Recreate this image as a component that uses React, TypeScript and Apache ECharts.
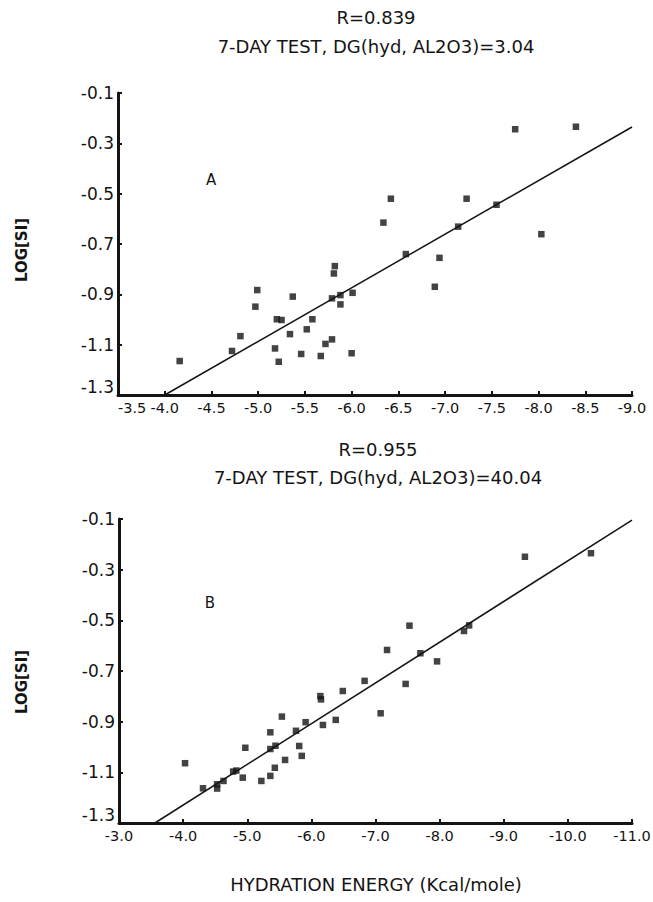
import React, { useEffect, useRef } from "react";
import * as echarts from "echarts";

// ---- Data ----
const yTicks = [-1.3, -1.1, -0.9, -0.7, -0.5, -0.3, -0.1];
const xTicksA = [-3.5, -4.0, -4.5, -5.0, -5.5, -6.0, -6.5, -7.0, -7.5, -8.0, -8.5, -9.0];
const xTicksB = [-3.0, -4.0, -5.0, -6.0, -7.0, -8.0, -9.0, -10.0, -11.0];

const titleA1 = "R=0.839";
const titleA2 = "7-DAY TEST, DG(hyd, AL2O3)=3.04";
const titleB1 = "R=0.955";
const titleB2 = "7-DAY TEST, DG(hyd, AL2O3)=40.04";
const xAxisName = "HYDRATION ENERGY (Kcal/mole)";
const yAxisName = "LOG[SI]";

const pointsA: [number, number][] = [
  [-4.16, -1.165], [-4.72, -1.125], [-4.81, -1.066], [-4.99, -0.883], [-4.97, -0.949],
  [-5.2, -0.999], [-5.25, -1.002], [-5.18, -1.115], [-5.22, -1.168], [-5.37, -0.909],
  [-5.34, -1.058], [-5.46, -1.137], [-5.52, -1.039], [-5.58, -0.999], [-5.67, -1.145],
  [-5.72, -1.097], [-5.79, -1.079], [-5.79, -0.916], [-5.82, -0.788], [-5.81, -0.817],
  [-5.88, -0.903], [-5.88, -0.94], [-6.01, -0.894], [-6.0, -1.134], [-6.34, -0.615],
  [-6.42, -0.52], [-6.58, -0.74], [-6.89, -0.87], [-6.94, -0.755], [-7.14, -0.631],
  [-7.23, -0.52], [-7.55, -0.544], [-7.75, -0.244], [-8.03, -0.661], [-8.4, -0.234],
];
const lineA: [number, number][] = [[-4.0, -1.3], [-9.0, -0.235]];

const pointsB: [number, number][] = [
  [-4.03, -1.064], [-4.31, -1.163], [-4.53, -1.147], [-4.53, -1.164], [-4.63, -1.134],
  [-4.78, -1.097], [-4.83, -1.093], [-4.93, -1.121], [-4.97, -1.003], [-5.22, -1.134],
  [-5.36, -1.114], [-5.36, -0.942], [-5.36, -1.008], [-5.43, -1.082], [-5.44, -0.995],
  [-5.54, -0.88], [-5.59, -1.051], [-5.76, -0.936], [-5.81, -0.996], [-5.85, -1.035],
  [-5.91, -0.902], [-6.14, -0.799], [-6.15, -0.812], [-6.18, -0.913], [-6.38, -0.893],
  [-6.49, -0.779], [-6.83, -0.739], [-7.08, -0.867], [-7.18, -0.617], [-7.47, -0.751],
  [-7.53, -0.521], [-7.7, -0.63], [-7.96, -0.662], [-8.38, -0.542], [-8.46, -0.52],
  [-9.33, -0.249], [-10.36, -0.235],
];
const lineB: [number, number][] = [[-3.56, -1.3], [-11.0, -0.104]];

const FONT = "'DejaVu Sans', Verdana, sans-serif";
const INK = "#141414";

function xAxis(gridIndex: number, min: number, max: number, ticks: number[], firstAlign: string) {
  return {
    type: "value",
    gridIndex,
    min,
    max,
    inverse: true,
    axisLine: { show: true, onZero: false, lineStyle: { color: INK, width: 3 } },
    axisTick: { show: true, inside: true, length: 4, lineStyle: { color: INK, width: 2 }, customValues: ticks },
    axisLabel: {
      customValues: ticks,
      formatter: (v: number) => v.toFixed(1),
      color: INK,
      fontFamily: FONT,
      fontSize: 14.5,
      margin: 5,
      showMinLabel: true,
      showMaxLabel: true,
      alignMinLabel: firstAlign,
      alignMaxLabel: "center",
    },
    splitLine: { show: false },
  };
}

function yAxis(gridIndex: number) {
  return {
    type: "value",
    gridIndex,
    min: -1.3,
    max: -0.1,
    axisLine: { show: true, onZero: false, lineStyle: { color: INK, width: 3 } },
    axisTick: { show: true, inside: true, length: 4, lineStyle: { color: INK, width: 2 }, customValues: yTicks },
    axisLabel: {
      customValues: yTicks,
      formatter: (v: number) => v.toFixed(1),
      color: INK,
      fontFamily: FONT,
      fontSize: 17,
      margin: 4,
      showMinLabel: true,
      showMaxLabel: true,
      verticalAlignMinLabel: "bottom",
    },
    splitLine: { show: false },
  };
}

function text(x: number, y: number, t: string, size: number, rotate = 0, weight = "normal") {
  return {
    type: "text",
    x,
    y,
    rotation: rotate,
    style: {
      text: t,
      fill: INK,
      font: `${weight} ${size}px ${FONT}`,
      textAlign: "center",
      textVerticalAlign: "middle",
    },
  };
}

export default function App() {
  const ref = useRef<HTMLDivElement>(null);
  useEffect(() => {
    if (!ref.current) return;
    const chart = echarts.init(ref.current, undefined, { renderer: "svg" });
    chart.setOption({
      animation: false,
      backgroundColor: "#ffffff",
      grid: [
        { left: 118, top: 93, width: 514, height: 302, containLabel: false, outerBoundsMode: "none" },
        { left: 119, top: 519, width: 513, height: 304, containLabel: false, outerBoundsMode: "none" },
      ],
      xAxis: [xAxis(0, -9.0, -3.5, xTicksA, "left"), xAxis(1, -11.0, -3.0, xTicksB, "center")],
      yAxis: [yAxis(0), yAxis(1)],
      series: [
        {
          type: "scatter",
          xAxisIndex: 0,
          yAxisIndex: 0,
          data: pointsA,
          symbol: "rect",
          symbolSize: 6.5,
          itemStyle: { color: INK },
        },
        {
          type: "line",
          xAxisIndex: 0,
          yAxisIndex: 0,
          data: lineA,
          showSymbol: false,
          symbol: "none",
          lineStyle: { color: INK, width: 1.5 },
        },
        {
          type: "scatter",
          xAxisIndex: 1,
          yAxisIndex: 1,
          data: pointsB,
          symbol: "rect",
          symbolSize: 6.5,
          itemStyle: { color: INK },
        },
        {
          type: "line",
          xAxisIndex: 1,
          yAxisIndex: 1,
          data: lineB,
          showSymbol: false,
          symbol: "none",
          lineStyle: { color: INK, width: 1.5 },
        },
      ],
      graphic: [
        text(376, 17, titleA1, 18),
        text(376, 46, titleA2, 18),
        text(378, 449, titleB1, 18),
        text(378, 477, titleB2, 18),
        text(376, 884, xAxisName, 18),
        text(22, 250, yAxisName, 15, Math.PI / 2, "bold"),
        text(22, 682, yAxisName, 15, Math.PI / 2, "bold"),
        text(211, 180, "A", 15),
        text(210, 603, "B", 15),
      ],
    });
    return () => chart.dispose();
  }, []);
  return (
    <div
      ref={ref}
      style={{ position: "fixed", left: 0, top: 0, width: 653, height: 902, background: "#fff" }}
    />
  );
}
